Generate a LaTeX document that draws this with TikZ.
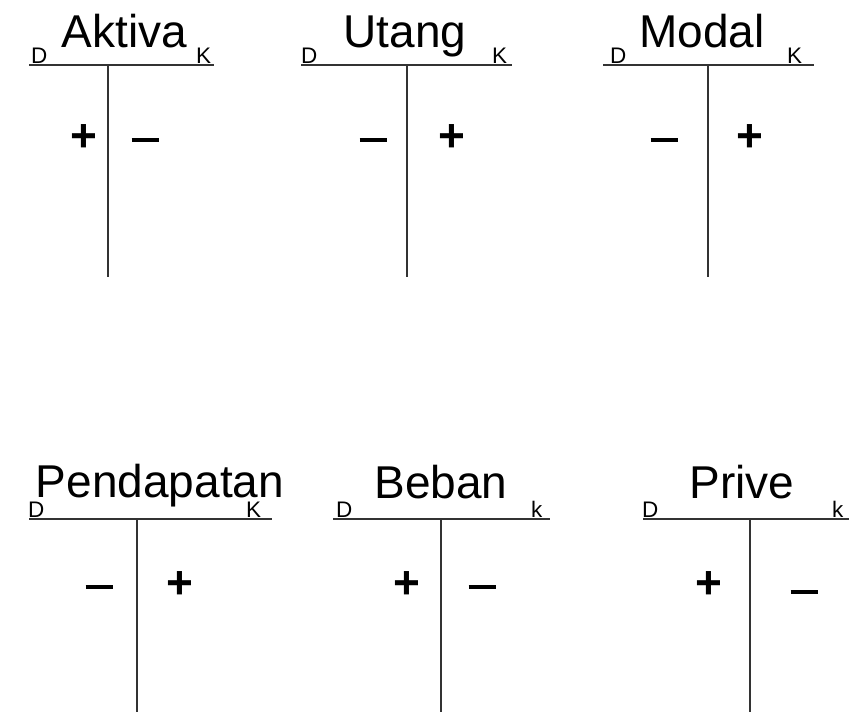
\documentclass[tikz,border=0pt]{standalone}
\usepackage{fontspec}
\setmainfont{Liberation Sans}
\begin{document}
\begin{tikzpicture}[x=1pt,y=-1pt,
  title/.style={anchor=base,inner sep=0pt,font=\fontsize{46}{46}\selectfont},
  side/.style={anchor=base west,inner sep=0pt,font=\fontsize{22.5}{22.5}\selectfont},
  sign/.style={inner sep=0pt,font=\fontsize{46}{46}\selectfont\bfseries},
  rule/.style={line width=1.3pt,black!80}]
\useasboundingbox (0,0) rectangle (849,712);
\newcommand\plussign{+}
\newcommand\minussign{\rule{27pt}{3.6pt}}
% Aktiva
\node[title] (t1) at (124.5,47) {Aktiva};
\node[side] (d1) at (31,63) {D};
\node[side] (k1) at (196,63) {K};
\draw[rule] (29,65) -- (214,65);
\draw[rule] (108,65) -- (108,277);
\node[sign] (p1) at (84,138) {\plussign};
\node[sign] (m1) at (145,140) {\minussign};
% Utang
\node[title] (t2) at (405,47) {Utang};
\node[side] (d2) at (301,63) {D};
\node[side] (k2) at (492,63) {K};
\draw[rule] (301,65) -- (512,65);
\draw[rule] (407,65) -- (407,277);
\node[sign] (m2) at (373,140) {\minussign};
\node[sign] (p2) at (452,138) {\plussign};
% Modal
\node[title] (t3) at (702,47) {Modal};
\node[side] (d3) at (610,63) {D};
\node[side] (k3) at (787,63) {K};
\draw[rule] (603,65) -- (814,65);
\draw[rule] (708,65) -- (708,277);
\node[sign] (m3) at (664,140) {\minussign};
\node[sign] (p3) at (750,138) {\plussign};
% Pendapatan
\node[title] (t4) at (160,497) {Pendapatan};
\node[side] (d4) at (28,517) {D};
\node[side] (k4) at (246,517) {K};
\draw[rule] (29,519) -- (272,519);
\draw[rule] (137,519) -- (137,712);
\node[sign] (m4) at (99,587) {\minussign};
\node[sign] (p4) at (180,585) {\plussign};
% Beban
\node[title] (t5) at (441,498) {Beban};
\node[side] (d5) at (336,517) {D};
\node[side] (k5) at (531,517) {k};
\draw[rule] (333,519) -- (550,519);
\draw[rule] (441,519) -- (441,712);
\node[sign] (p5) at (407,585) {\plussign};
\node[sign] (m5) at (482,587) {\minussign};
% Prive
\node[title] (t6) at (742,498) {Prive};
\node[side] (d6) at (642,517) {D};
\node[side] (k6) at (832,517) {k};
\draw[rule] (643,519) -- (849,519);
\draw[rule] (750,519) -- (750,712);
\node[sign] (p6) at (709,585) {\plussign};
\node[sign] (m6) at (804,592) {\minussign};
\end{tikzpicture}
\end{document}
